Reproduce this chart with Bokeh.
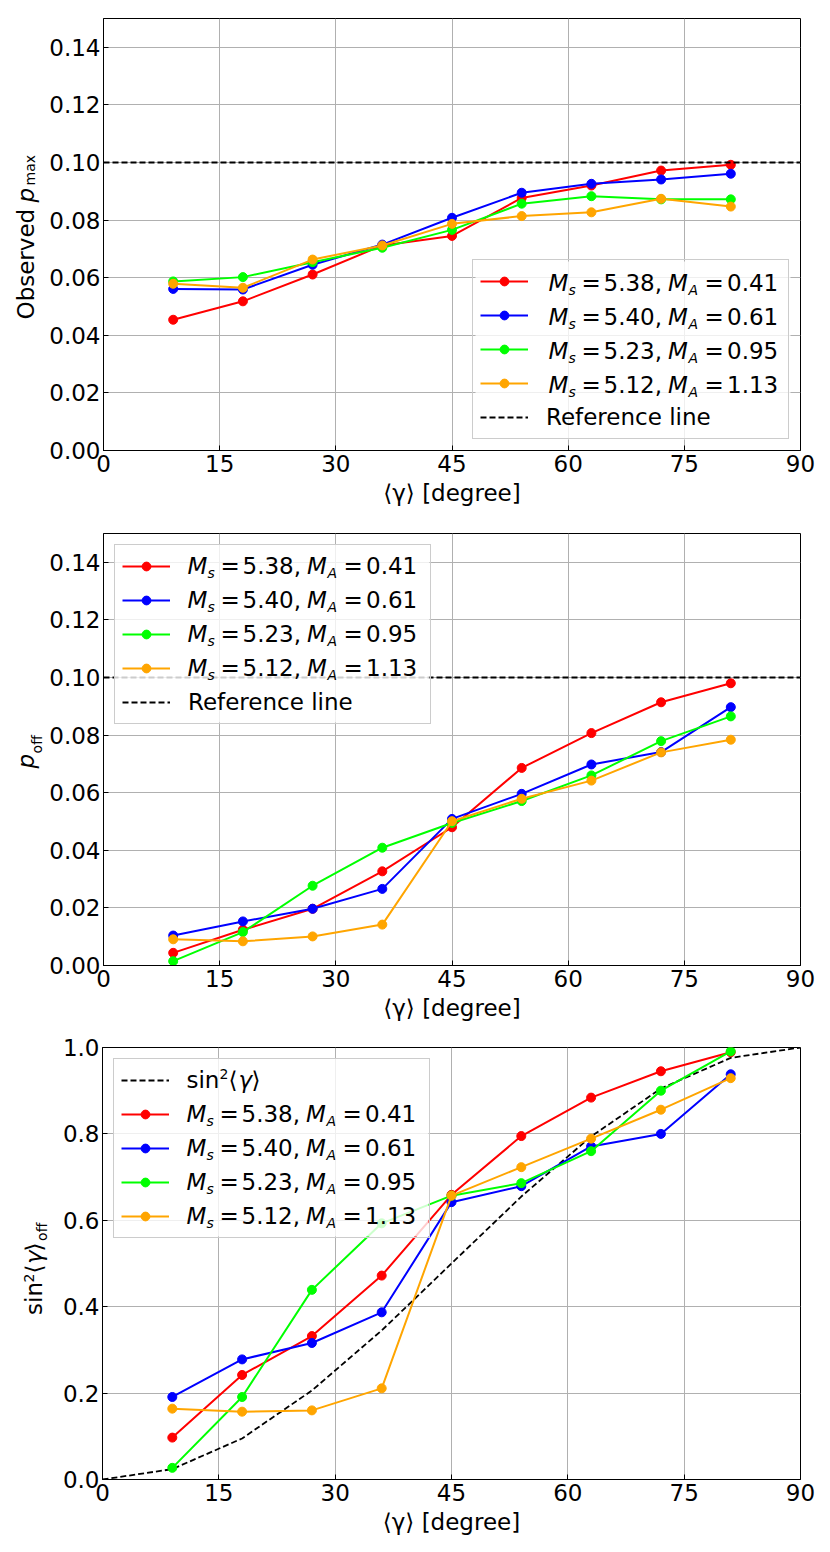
import math
from bokeh.plotting import figure
from bokeh.models import (Legend, LegendItem, Label, FixedTicker, PrintfTickFormatter,
                          Range1d, BoxAnnotation)
from bokeh.layouts import column, row
from bokeh.embed import file_html
from bokeh.resources import INLINE
from bokeh.core.properties import value

# ---------------- data ----------------
gamma = [9, 18, 27, 36, 45, 54, 63, 72, 81]
x_ticks = [0, 15, 30, 45, 60, 75, 90]
series_ms = ["5.38", "5.40", "5.23", "5.12"]
series_ma = ["0.41", "0.61", "0.95", "1.13"]
colors = ["#ff0000", "#0000ff", "#00ff00", "#ffa500"]

pmax_red = [0.0454, 0.0518, 0.0611, 0.0712, 0.0745, 0.0877, 0.0920, 0.0972, 0.0992]
pmax_blue = [0.0561, 0.0559, 0.0645, 0.0715, 0.0808, 0.0895, 0.0926, 0.0941, 0.0961]
pmax_green = [0.0587, 0.0602, 0.0654, 0.0704, 0.0766, 0.0857, 0.0883, 0.0872, 0.0872]
pmax_orange = [0.0579, 0.0565, 0.0663, 0.0712, 0.0787, 0.0814, 0.0827, 0.0874, 0.0847]

poff_red = [0.0044, 0.0124, 0.0197, 0.0327, 0.0480, 0.0686, 0.0807, 0.0914, 0.0980]
poff_blue = [0.0104, 0.0153, 0.0197, 0.0266, 0.0509, 0.0596, 0.0698, 0.0741, 0.0897]
poff_green = [0.0015, 0.0116, 0.0277, 0.0409, 0.0495, 0.0571, 0.0660, 0.0779, 0.0865]
poff_orange = [0.0091, 0.0084, 0.0101, 0.0142, 0.0501, 0.0579, 0.0642, 0.0740, 0.0784]

sin2off_red = [0.097, 0.242, 0.332, 0.472, 0.659, 0.795, 0.884, 0.945, 0.989]
sin2off_blue = [0.191, 0.278, 0.316, 0.387, 0.642, 0.679, 0.771, 0.800, 0.938]
sin2off_green = [0.027, 0.191, 0.439, 0.593, 0.657, 0.686, 0.760, 0.900, 0.991]
sin2off_orange = [0.164, 0.157, 0.160, 0.211, 0.657, 0.723, 0.789, 0.856, 0.929]

sin2_x = [0, 9, 18, 27, 36, 45, 54, 63, 72, 81, 90]
sin2_y = [0.0, 0.024, 0.095, 0.206, 0.345, 0.500, 0.655, 0.794, 0.905, 0.976, 1.0]

ref_x = [0, 90]
ref_y = [0.10, 0.10]

p_ticks = [0.00, 0.02, 0.04, 0.06, 0.08, 0.10, 0.12, 0.14]
s_ticks = [0.0, 0.2, 0.4, 0.6, 0.8, 1.0]

# ---------------- style ----------------
FONT = "DejaVu Sans"
FS = 23
SUB = 14
FW, FH = 698, 432
PAD, GW, GH, LH, SP, STAND, LW, MARGIN = 7, 48, 22, 28, 6, 18, 235, 11
WB = 2 * PAD + GW + STAND + LW
HB = 2 * PAD + 5 * LH + 4 * SP
R = math.pi / 2
MID_BIG = 8.0     # baseline -> middle of text box, 23px
MID_SUB = 4.8     # baseline -> middle of text box, 14px


def base_fig(strip_w, height, top, bottom, yr, yticks, yfmt):
    p = figure(width=822 - strip_w, height=height, x_range=Range1d(0, 90), y_range=Range1d(*yr),
               output_backend="svg", toolbar_location=None,
               min_border_left=102 - strip_w, min_border_right=22,
               min_border_top=top, min_border_bottom=bottom)
    p.outline_line_color = "black"
    p.outline_line_width = 1
    p.outline_line_alpha = 1
    p.background_fill_color = "white"
    p.border_fill_color = "white"
    for ax in (p.xaxis[0], p.yaxis[0]):
        ax.major_tick_in = 5
        ax.major_tick_out = 0
        ax.minor_tick_in = 0
        ax.minor_tick_out = 0
        ax.major_tick_line_color = "black"
        ax.axis_line_color = "black"
        ax.major_label_text_font = FONT
        ax.major_label_text_font_size = f"{FS}px"
        ax.major_label_text_color = "black"
    p.xaxis.ticker = FixedTicker(ticks=x_ticks)
    p.yaxis.ticker = FixedTicker(ticks=yticks)
    p.yaxis.formatter = PrintfTickFormatter(format=yfmt)
    p.xaxis.major_label_standoff = 4
    p.yaxis.major_label_standoff = 3
    p.xaxis.axis_label = "⟨γ⟩ [degree]"
    p.xaxis.axis_label_text_font = FONT
    p.xaxis.axis_label_text_font_size = f"{FS}px"
    p.xaxis.axis_label_text_font_style = "normal"
    p.xaxis.axis_label_text_color = "black"
    p.xaxis.axis_label_standoff = 5
    p.grid.grid_line_color = "#b0b0b0"
    p.grid.grid_line_width = 1
    return p


def strip_fig(strip_w, height, top, bottom):
    # same vertical borders as the panel, so its frame lines up with the panel frame
    s = figure(width=strip_w, height=height, x_range=Range1d(0, 1), y_range=Range1d(0, 1),
               x_axis_type=None, y_axis_type=None,
               output_backend="svg", toolbar_location=None,
               min_border_left=0, min_border_right=0,
               min_border_top=top, min_border_bottom=bottom)
    s.grid.visible = False
    s.outline_line_alpha = 0
    s.background_fill_color = "white"
    s.border_fill_color = "white"
    return s


def add_piece(p, text, x, y, size, style, angle=0.0, align="left"):
    p.add_layout(Label(x=x, y=y, x_units="screen", y_units="screen", text=text,
                       text_font=FONT, text_font_size=f"{size}px", text_font_style=style,
                       text_color="black", text_baseline="middle", text_align=align,
                       angle=angle))


def add_vpiece(s, text, base_x, start, width, size, style):
    """rotated piece: centred on its box; base_x = baseline, start = start along the text"""
    mid = MID_BIG if size == FS else MID_SUB
    add_piece(s, text, base_x - mid, start + width / 2, size, style, R, "center")


def add_series(p, ys_list):
    items = []
    for ys, c in zip(ys_list, colors):
        l = p.line(gamma, ys, line_color=c, line_width=2)
        s = p.scatter(gamma, ys, marker="circle", size=9, fill_color=c, line_color=c)
        items.append(LegendItem(label=value(" "), renderers=[l, s]))
    return items


def make_legend(p, items, location):
    if location == "bottom_right":
        left = FW - MARGIN - WB
        top = MARGIN + HB
    else:
        left = MARGIN
        top = FH - MARGIN
    p.add_layout(BoxAnnotation(left=left, right=left + WB, bottom=top - HB, top=top,
                               left_units="screen", right_units="screen",
                               bottom_units="screen", top_units="screen",
                               fill_color="white", fill_alpha=0.8, line_alpha=0))
    leg = Legend(items=items, location=location)
    leg.label_text_font = FONT
    leg.label_text_font_size = f"{FS}px"
    leg.label_text_color = "black"
    leg.glyph_width = GW
    leg.glyph_height = GH
    leg.label_height = LH
    leg.label_width = LW
    leg.label_standoff = STAND
    leg.padding = PAD
    leg.spacing = SP
    leg.margin = MARGIN
    leg.background_fill_alpha = 0
    leg.border_line_color = "#cccccc"
    leg.border_line_alpha = 1
    leg.border_line_width = 1
    p.add_layout(leg)
    return left + PAD + GW + STAND, top


def row_center(top, r):
    return top - PAD - r * (LH + SP) - LH / 2


def add_math_rows(p, tx, top, rows):
    for r, ms, ma in zip(rows, series_ms, series_ma):
        yc = row_center(top, r)
        ys = yc - 7
        add_piece(p, "M", tx + 0, yc, FS, "italic")
        add_piece(p, "s", tx + 20, ys, SUB, "italic")
        add_piece(p, "=", tx + 33, yc, FS, "normal")
        add_piece(p, ms + ",", tx + 55, yc, FS, "normal")
        add_piece(p, "M", tx + 119.5, yc, FS, "italic")
        add_piece(p, "A", tx + 140, ys, SUB, "italic")
        add_piece(p, "=", tx + 156, yc, FS, "normal")
        add_piece(p, ma, tx + 178.5, yc, FS, "normal")


# ---------------- panel 1 ----------------
SW1, H1, T1, B1 = 46, 523, 18, 73
p1 = base_fig(SW1, H1, T1, B1, (0, 0.15), p_ticks, "%.2f")
items1 = add_series(p1, [pmax_red, pmax_blue, pmax_green, pmax_orange])
r1 = p1.line(ref_x, ref_y, line_color="black", line_width=1.8, line_dash="6 3")
items1.append(LegendItem(label=value("Reference line"), renderers=[r1]))
tx, top = make_legend(p1, items1, "bottom_right")
add_math_rows(p1, tx, top, [0, 1, 2, 3])
s1 = strip_fig(SW1, H1, T1, B1)
add_vpiece(s1, "Observed", 33.3, 131, 110.7, FS, "normal")
add_vpiece(s1, "p", 33.3, 248, 14.6, FS, "italic")
add_vpiece(s1, "max", 34.3, 265, 30.5, SUB, "normal")

# ---------------- panel 2 ----------------
SW2, H2, T2, B2 = 46, 507, 10, 65
p2 = base_fig(SW2, H2, T2, B2, (0, 0.15), p_ticks, "%.2f")
items2 = add_series(p2, [poff_red, poff_blue, poff_green, poff_orange])
r2 = p2.line(ref_x, ref_y, line_color="black", line_width=1.8, line_dash="6 3")
items2.append(LegendItem(label=value("Reference line"), renderers=[r2]))
tx, top = make_legend(p2, items2, "top_left")
add_math_rows(p2, tx, top, [0, 1, 2, 3])
s2 = strip_fig(SW2, H2, T2, B2)
add_vpiece(s2, "p", 33.7, 197, 14.6, FS, "italic")
add_vpiece(s2, "off", 41.5, 212, 18.4, SUB, "normal")

# ---------------- panel 3 ----------------
SW3, H3, T3, B3 = 52, 515, 17, 66
p3 = base_fig(SW3, H3, T3, B3, (0, 1.0), s_ticks, "%.1f")
r3 = p3.line(sin2_x, sin2_y, line_color="black", line_width=1.8, line_dash="6 3")
items3 = [LegendItem(label=value(" "), renderers=[r3])]
items3 += add_series(p3, [sin2off_red, sin2off_blue, sin2off_green, sin2off_orange])
tx, top = make_legend(p3, items3, "top_left")
add_math_rows(p3, tx, top, [1, 2, 3, 4])
yc0 = row_center(top, 0)
add_piece(p3, "sin", tx, yc0, FS, "normal")
add_piece(p3, "2", tx + 33, yc0 + 6, SUB, "normal")
add_piece(p3, "⟨", tx + 42, yc0, FS, "normal")
add_piece(p3, "γ", tx + 52, yc0, FS, "italic")
add_piece(p3, "⟩", tx + 65, yc0, FS, "normal")
s3 = strip_fig(SW3, H3, T3, B3)
y0 = 164.5
add_vpiece(s3, "sin", 41.5, y0, 33.0, FS, "normal")
add_vpiece(s3, "2", 33.5, y0 + 32.5, 8.9, SUB, "normal")
add_vpiece(s3, "⟨", 41.5, y0 + 41.5, 9.0, FS, "normal")
add_vpiece(s3, "γ", 41.5, y0 + 51, 13.6, FS, "italic")
add_vpiece(s3, "⟩", 41.5, y0 + 63.5, 9.0, FS, "normal")
add_vpiece(s3, "off", 46.5, y0 + 74, 18.4, SUB, "normal")

layout = column(row(s1, p1), row(s2, p2), row(s3, p3))
open("out.html", "w").write(file_html(layout, INLINE))
